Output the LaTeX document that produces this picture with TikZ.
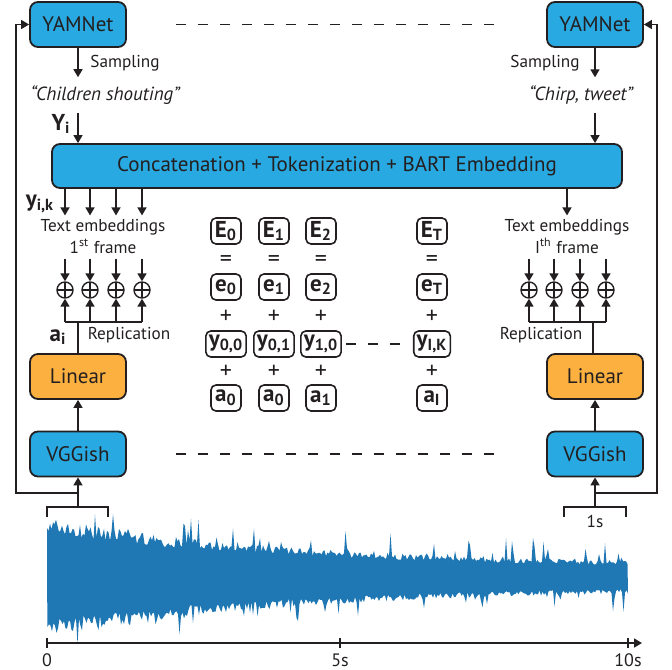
\documentclass[tikz,border=0pt]{standalone}
\usepackage{fontspec}
\setmainfont{PT Sans}
\usetikzlibrary{arrows.meta}

\definecolor{netblue}{HTML}{29A9E1}
\definecolor{linorange}{HTML}{FBB040}
\definecolor{wavblue}{HTML}{1F77B4}
\definecolor{ink}{HTML}{231F20}

\newcommand{\tk}[2]{\textbf{#1\textsubscript{#2}}}

\tikzset{
  netbox/.style={draw=ink, line width=0.9pt, rounded corners=4pt, fill=netblue,
    minimum width=48pt, minimum height=22.5pt, font=\fontsize{10.5}{12}\selectfont},
  linbox/.style={netbox, fill=linorange},
  tok/.style={draw=ink, line width=0.8pt, rounded corners=2.5pt, minimum width=15pt,
    minimum height=13pt, inner sep=1.5pt, font=\fontsize{11.5}{13}\selectfont\bfseries},
  lbl/.style={font=\fontsize{8.6}{11}\selectfont, inner sep=2pt},
  oper/.style={font=\fontsize{12}{13}\selectfont, inner sep=1pt},
  quot/.style={font=\fontsize{9.5}{11}\selectfont\itshape, inner sep=4pt},
  oplus/.style={circle, draw=ink, line width=0.7pt, minimum size=8pt, inner sep=0pt,
    path picture={\draw[line width=0.7pt] (path picture bounding box.north) -- (path picture bounding box.south)
      (path picture bounding box.west) -- (path picture bounding box.east);}},
  arr/.style={-{Triangle[length=4pt,width=4.5pt]}, line width=0.8pt, draw=ink},
  ln/.style={line width=0.8pt, draw=ink},
  dashline/.style={ln, dash pattern=on 5pt off 6pt},
  every node/.style={text=ink},
}

\begin{document}
\begin{tikzpicture}[x=0.5pt, y=-0.5pt]
\useasboundingbox (0,0) rectangle (672,669);

% YAMNet and labels
\node[netbox] (yamL) at (78,24.5) {YAMNet};
\node[netbox] (yamR) at (595,24.5) {YAMNet};
\draw[dashline, shorten <=24.5pt, shorten >=24.5pt] (yamL.east) -- (yamR.west);
\node[lbl, anchor=west] (smpL) at (86,63) {Sampling};
\node[lbl, anchor=east] (smpR) at (584,63) {Sampling};
\node[quot] (clsL) at (105,95) {``Children shouting''};
\node[quot] (clsR) at (581,95) {``Chirp, tweet''};
\node[font=\fontsize{11.5}{12}\selectfont\bfseries] (yiL) at (61,124) {Y\textsubscript{i}};

\node[netbox, minimum width=285pt, minimum height=22pt] (cat) at (337,166)
  {Concatenation + Tokenization + BART Embedding};

\draw[arr] (yamL.south) -- (yamL.south |- clsL.north);
\draw[arr] (yamR.south) -- (yamR.south |- clsR.north);
\draw[arr] (yamL.south |- clsL.south) -- (yamL.south |- cat.north);
\draw[arr] (yamR.south |- clsR.south) -- (yamR.south |- cat.north);

% text embeddings
\node[font=\fontsize{11.5}{12}\selectfont\bfseries] (yik) at (40,204) {y\textsubscript{i,k}};
\node[lbl, align=center] (teL) at (103,237) {Text embeddings\\1\textsuperscript{st} frame};
\node[lbl, align=center] (teR) at (567,237) {Text embeddings\\I\textsuperscript{th} frame};

\foreach \k/\x in {1/65,2/90,3/116,4/142}
  \node[oplus] (pL\k) at (\x,290) {};
\foreach \k/\x in {1/529,2/554,3/580,4/606}
  \node[oplus] (pR\k) at (\x,290) {};

\foreach \k in {1,...,4} {
  \draw[arr] (pL\k |- cat.south) -- (pL\k |- teL.north);
  \draw[arr] (pL\k |- teL.south) -- (pL\k.north);
  \draw[arr] (pR\k |- teR.south) -- (pR\k.north);
}
\draw[arr] (teR.north |- cat.south) -- (teR.north);

% Linear and VGGish
\node[linbox] (linL) at (78,376.5) {Linear};
\node[linbox] (linR) at (595,376.5) {Linear};
\node[netbox] (vggL) at (78,454) {VGGish};
\node[netbox] (vggR) at (595,454) {VGGish};
\draw[dashline, shorten <=24.5pt, shorten >=24.5pt] (vggL.east) -- (vggR.west);
\draw[arr] (vggL.north) -- (linL.south);
\draw[arr] (vggR.north) -- (linR.south);

% replication
\coordinate (rpL) at (78,322);
\coordinate (rpR) at (593,322);
\draw[ln] (linL.north) -- (rpL);
\draw[ln] (linR.north -| rpR) -- (rpR);
\draw[ln] (pL1 |- rpL) -- (pL4 |- rpL);
\draw[ln] (pR1 |- rpR) -- (pR4 |- rpR);
\foreach \k in {1,...,4} {
  \draw[arr] (pL\k |- rpL) -- (pL\k.south);
  \draw[arr] (pR\k |- rpR) -- (pR\k.south);
}
\node[font=\fontsize{11.5}{12}\selectfont\bfseries] (aiL) at (58,337) {a\textsubscript{i}};
\node[lbl] (repL) at (129,335) {Replication};
\node[lbl] (repR) at (541,335) {Replication};

% tokens
\foreach \c/\x/\s/\yy/\aa in {0/226/0/{0,0}/0, 1/274/1/{0,1}/0, 2/321/2/{1,0}/1, T/432/T/{I,K}/I} {
  \node[tok] (E\c) at (\x,231) {\tk{E}{\s}};
  \node[oper] (q\c) at (\x,261) {=};
  \node[tok] (e\c) at (\x,287) {\tk{e}{\s}};
  \node[oper] (pa\c) at (\x,317) {+};
  \node[tok] (y\c) at (\x,344) {\tk{y}{\yy}};
  \node[oper] (pb\c) at (\x,372) {+};
  \node[tok] (a\c) at (\x,398) {\tk{a}{\aa}};
}
\draw[dashline, shorten <=2pt, shorten >=2pt] (y2.east) -- (yT.west);

% 1s windows and feedback
\draw[ln] (47,517) -- (47,507) -- (108,507) -- (108,517);
\draw[ln] (564,517) -- (564,507) -- (626,507) -- (626,517);
\coordinate (brL) at (78,507);
\coordinate (brR) at (595,507);
\node[lbl] (sec) at (595,521) {1s};
\draw[arr] (brL) -- (vggL.south);
\draw[arr] (brR) -- (vggR.south);
\coordinate (fbL) at (16,493);
\coordinate (fbR) at (657,493);
\draw[arr] (vggL.south |- fbL) -- (fbL) |- (yamL.west);
\draw[arr] (vggR.south |- fbR) -- (fbR) |- (yamR.east);

% waveform
\pgfmathsetseed{11}
\fill[wavblue] (47,578)
  \foreach \x in {47,48.5,...,627.5} { -- (\x,{577-(11+49*exp(-(\x-47)/260))*(0.72+0.28*rnd)-24*rnd^16}) }
  \foreach \x in {628,626.5,...,47} { -- (\x,{577+(11+49*exp(-(\x-47)/260))*(0.72+0.28*rnd)+20*rnd^16}) }
  -- cycle;

% time axis
\coordinate (ax0) at (47,643);
\coordinate (ax1) at (642,643);
\draw[arr] (ax0) -- (ax1);
\foreach \x/\t in {47/0,340/5s,628/10s} {
  \draw[ln] (\x,638) -- (\x,648);
  \node[lbl, font=\fontsize{9}{11}\selectfont] (t\x) at (\x,660) {\t};
}
\end{tikzpicture}
\end{document}
